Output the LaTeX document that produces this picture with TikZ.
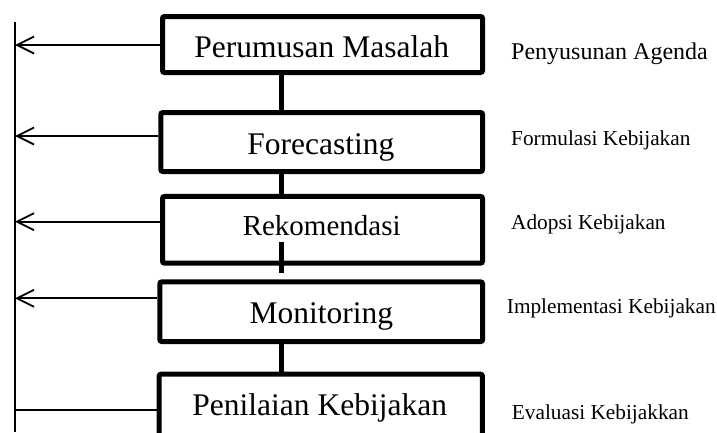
\documentclass[tikz,border=0pt]{standalone}
\usepackage{fontspec}
\setmainfont{Liberation Serif}
\usetikzlibrary{arrows.meta}
\begin{document}
\begin{tikzpicture}[x=1pt,y=-1pt,
  box/.style={draw, line width=5pt, rounded corners=2pt, inner sep=0pt},
  boxtext/.style={inner sep=0pt, anchor=base, font=\fontsize{31.5}{36}\selectfont},
  sidetext/.style={inner sep=0pt, anchor=base west, font=\fontsize{21.3}{25}\selectfont},
  conn/.style={line width=5pt},
  thinline/.style={line width=1.8pt},
  arr/.style={thinline, -{Straight Barb[length=17pt,width=17pt,line width=1.8pt]}}]
\useasboundingbox (0,0) rectangle (717,432);
\clip (0,0) rectangle (717,432);

% boxes
\node[box, minimum width=320pt,   minimum height=56pt]   (b1) at (322.5,44.5) {};
\node[box, minimum width=321.7pt, minimum height=59pt]   (b2) at (321.7,142) {};
\node[box, minimum width=320pt,   minimum height=66.7pt] (b3) at (322.5,229.8) {};
\node[box, minimum width=322.7pt, minimum height=59.7pt] (b4) at (321.2,311.7) {};
\node[box, minimum width=323.3pt, minimum height=70pt]   (b5) at (320.8,409.2) {};

% box texts
\node[boxtext] (t1) at (321.7,57.3) {Perumusan Masalah};
\node[boxtext] (t2) at (320.8,154.3) {Forecasting};
\node[boxtext, font=\fontsize{29}{34}\selectfont] (t3) at (321.7,235) {Rekomendasi};
\node[boxtext] (t4) at (321.3,323.3) {Monitoring};
\node[boxtext] (t5) at (319.7,415.7) {Penilaian Kebijakan};

% side labels
\node[sidetext, font=\fontsize{24}{28}\selectfont] (l1) at (511,59.3) {Penyusunan Agenda};
\node[sidetext] (l2) at (511,145) {Formulasi Kebijakan};
\node[sidetext] (l3) at (511,229.3) {Adopsi Kebijakan};
\node[sidetext] (l4) at (506.7,313.3) {Implementasi Kebijakan};
\node[sidetext] (l5) at (511.7,419.3) {Evaluasi Kebijakkan};

% connectors between boxes
\coordinate (cx) at (281,0);
\draw[conn] (b1.south -| cx) -- (b2.north -| cx);
\draw[conn] (b2.south -| cx) -- (b3.north -| cx);
\coordinate (c3a) at (281,241.7);
\coordinate (c3b) at (281,273.3);
\draw[conn] (c3a) -- (c3b);
\draw[conn] (b4.south -| cx) -- (b5.north -| cx);

% left feedback line
\coordinate (ltop) at (15,22);
\coordinate (lbot) at (15,432);
\draw[thinline] (ltop) -- (lbot);
\coordinate (a1) at (15,45);
\coordinate (a2) at (15,136);
\coordinate (a3) at (15,221.7);
\coordinate (a4) at (15,298.3);
\coordinate (a5) at (15,410);
\draw[arr] (a1 -| b1.west) -- (a1);
\draw[arr] (a2 -| b2.west) -- (a2);
\draw[arr] (a3 -| b3.west) -- (a3);
\draw[arr] (a4 -| b4.west) -- (a4);
\draw[thinline] (a5 -| b5.west) -- (a5);
\end{tikzpicture}
\end{document}
